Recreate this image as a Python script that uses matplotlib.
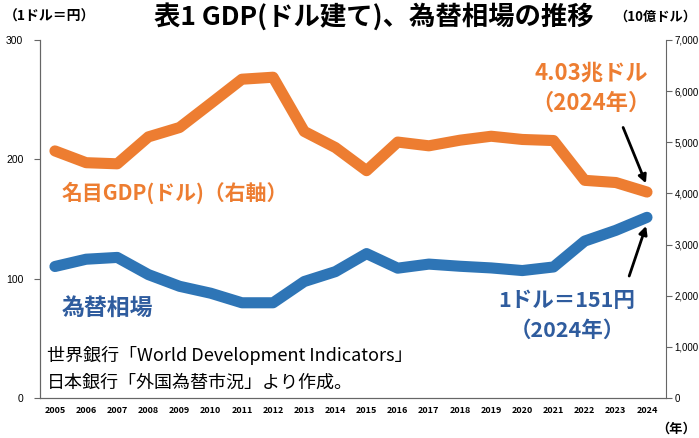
import numpy as np
import matplotlib.pyplot as plt

plt.rcParams['font.family'] = ['Noto Sans CJK JP', 'DejaVu Sans']

# data
years = list(range(2005, 2025))
fx_rate = [110.2, 116.3, 117.8, 103.4, 93.6, 87.8, 79.8, 79.8, 97.6, 105.9,
           121.0, 108.8, 112.2, 110.4, 109.0, 106.8, 109.8, 131.5, 140.5, 151.4]
gdp_usd = [4831, 4601, 4579, 5106, 5289, 5759, 6233, 6272, 5212, 4897,
           4445, 5004, 4931, 5041, 5118, 5055, 5034, 4256, 4213, 4027]
left_ticks = [0, 100, 200, 300]
right_ticks = [0, 1000, 2000, 3000, 4000, 5000, 6000, 7000]

orange = '#ED7D31'
blue = '#2E75B6'
blue_txt = '#2F5C9E'

fig = plt.figure(figsize=(6.99, 4.38), dpi=100)
ax = fig.add_axes([0.0572, 0.0913, 0.8956, 0.8174])
ax2 = ax.twinx()

ax.plot(years, fx_rate, color=blue, lw=8, solid_capstyle='round', solid_joinstyle='round')
ax2.plot(years, gdp_usd, color=orange, lw=8, solid_capstyle='round', solid_joinstyle='round')

ax.set_xlim(2004.52, 2024.61)
ax.set_ylim(0, 300)
ax2.set_ylim(0, 7000)
ax.set_yticks(left_ticks)
ax.set_yticklabels([str(v) for v in left_ticks], family='Liberation Sans', fontsize=7.5)
ax2.set_yticks(right_ticks)
ax2.set_yticklabels([f'{v:,}' for v in right_ticks], family='Liberation Sans', fontsize=7)
ax.set_xticks(years)
ax.set_xticklabels([str(y) for y in years], fontsize=6.5, fontweight='bold')
ax.tick_params(axis='x', length=0, pad=6)
ax.tick_params(axis='y', length=4, color='#666666', pad=8)
ax2.tick_params(axis='y', length=4, color='#666666', pad=2)

for a in (ax, ax2):
    a.spines['top'].set_visible(False)
    for s in ('left', 'right', 'bottom'):
        a.spines[s].set_color('#666666')
ax.spines['right'].set_visible(False)

fig.text(0.535, 0.962, '表1 GDP(ドル建て)、為替相場の推移', ha='center', va='center',
         fontsize=19, fontweight='bold')
fig.text(0.006, 0.962, '（1ドル＝円）', ha='left', va='center', fontsize=10, fontweight='bold')
fig.text(0.996, 0.962, '（10億ドル）', ha='right', va='center', fontsize=9.5, fontweight='bold')
fig.text(0.996, 0.022, '（年）', ha='right', va='center', fontsize=9.5, fontweight='bold')

ax.text(2005.2, 172, '名目GDP(ドル)（右軸）', color=orange, fontsize=15,
        fontweight='bold', va='center')
ax.text(2005.2, 75, '為替相場', color=blue_txt, fontsize=16.5, fontweight='bold', va='center')

ax.text(2004.75, 36, '世界銀行「World Development Indicators」', fontsize=13, va='center')
ax.text(2004.75, 12.5, '日本銀行「外国為替市況」より作成。', fontsize=13, va='center')

ax2.text(2022.2, 6355, '4.03兆ドル', color=orange, fontsize=16, fontweight='bold',
         ha='center', va='center')
ax2.text(2022.2, 5770, '（2024年）', color=orange, fontsize=16, fontweight='bold',
         ha='center', va='center')
ax2.annotate('', xy=(years[-1], gdp_usd[-1] + 120), xytext=(2023.2, 5340),
             arrowprops=dict(arrowstyle='-|>', color='black', lw=2, mutation_scale=12))

ax.text(2021.43, 82, '1ドル＝151円', color=blue_txt, fontsize=15.5, fontweight='bold',
        ha='center', va='center')
ax.text(2021.43, 57, '（2024年）', color=blue_txt, fontsize=15.5, fontweight='bold',
        ha='center', va='center')
ax.annotate('', xy=(years[-1], fx_rate[-1] - 5), xytext=(2023.4, 100),
            arrowprops=dict(arrowstyle='-|>', color='black', lw=2, mutation_scale=12))

fig.savefig('out.png', dpi=100)
